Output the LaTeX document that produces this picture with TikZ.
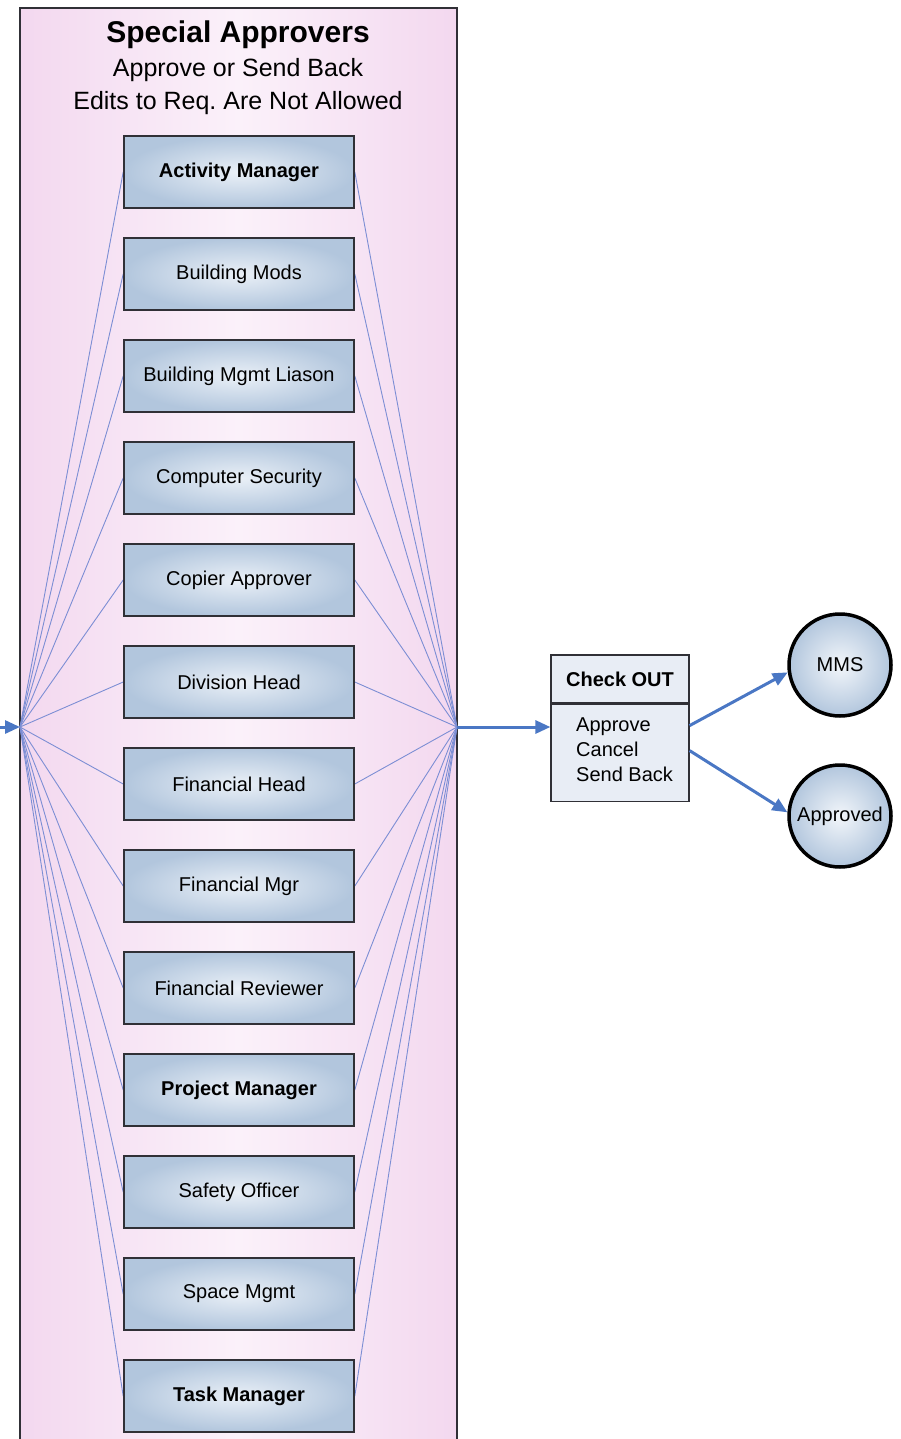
\documentclass[tikz,border=0pt]{standalone}
\usepackage{fontspec}
\setmainfont{Liberation Sans}
\usetikzlibrary{arrows.meta,positioning}
\definecolor{panelpink}{HTML}{F3D8EF}
\definecolor{panelmid}{HTML}{FBF1FA}
\definecolor{boxedge}{HTML}{B2C6DD}
\definecolor{boxmid}{HTML}{EAF0F7}
\definecolor{wireblue}{HTML}{7C8ED4}
\definecolor{flowblue}{HTML}{4A77C4}
\definecolor{framegray}{HTML}{303036}
\definecolor{checkfill}{HTML}{E8EDF5}
\pgfdeclarelayer{panel}
\pgfdeclarelayer{wires}
\pgfsetlayers{panel,wires,main}
\frenchspacing
\tikzset{
  approver/.style={draw=framegray, line width=1.6pt, minimum width=230pt, minimum height=72pt,
    inner color=boxmid, outer color=boxedge, font=\fontsize{20}{22}\selectfont},
  wire/.style={draw=wireblue, line width=0.9pt},
  flow/.style={draw=flowblue, line width=3pt, -{Triangle[length=15pt,width=13pt]}},
  state/.style={circle, draw=black, line width=3.5pt, minimum size=102pt, inner sep=0pt,
    inner color=boxmid!60!white, outer color=boxedge, font=\fontsize{20}{22}\selectfont},
  checkbox/.style={draw=framegray, line width=1.2pt, fill=checkfill, minimum width=138pt, inner sep=0pt},
}
\begin{document}
\begin{tikzpicture}[x=1pt,y=-1pt]
  \useasboundingbox (0,0) rectangle (900,1439); % page frame

  % panel with the approvers
  \begin{pgfonlayer}{panel}
    \shade[left color=panelpink, right color=panelpink, middle color=panelmid] (20,8) rectangle (457,1439);
    \draw[framegray, line width=1.5pt] (20,1439) -- (20,8) -- (457,8) -- (457,1439);
  \end{pgfonlayer}

  \node (title) at (238,35) {\fontsize{30}{34}\selectfont\bfseries Special Approvers};
  \node[align=center, font=\fontsize{25}{33}\selectfont] (subtitle) at (238,87)
    {Approve or Send Back\\Edits to Req. Are Not Allowed};

  \coordinate (fanL) at (20,727); % left fan point
  \coordinate (fanR) at (457,727); % right fan point
  \coordinate (start) at (0,727);

  % approver boxes
  \foreach \i/\name in {1/{\bfseries Activity Manager}, 2/{Building Mods}, 3/{Building Mgmt Liason},
      4/{Computer Security}, 5/{Copier Approver}, 6/{Division Head}, 7/{Financial Head},
      8/{Financial Mgr}, 9/{Financial Reviewer}, 10/{\bfseries Project Manager},
      11/{Safety Officer}, 12/{Space Mgmt}, 13/{\bfseries Task Manager}}
    \node[approver] (ap\i) at (239,{172+102*(\i-1)}) {\name};

  \begin{pgfonlayer}{wires}
    \foreach \i in {1,...,13} {
      \draw[wire] (fanL) -- (ap\i.west);
      \draw[wire] (fanR) -- (ap\i.east);
    }
  \end{pgfonlayer}

  % check out step
  \node[checkbox, minimum height=48pt, font=\fontsize{20}{22}\selectfont\bfseries] (chk) at (620,679) {Check OUT};
  \node[checkbox, minimum height=97pt, below=0pt of chk] (chkbody) {};
  \node[anchor=west, align=left, inner sep=0pt, font=\fontsize{20}{25}\selectfont] (choices) at (576,750)
    {Approve\\Cancel\\Send Back};

  % end states
  \node[state] (mms) at (840,665) {MMS};
  \node[state] (appr) at (840,816) {Approved};

  \draw[flow] (start) -- (fanL);
  \draw[flow] (fanR) -- (fanR -| chkbody.west);
  \draw[flow] ([yshift=-22pt]chkbody.north east) -- (mms.188);
  \draw[flow] ([yshift=-47pt]chkbody.north east) -- (appr.176);
\end{tikzpicture}
\end{document}
